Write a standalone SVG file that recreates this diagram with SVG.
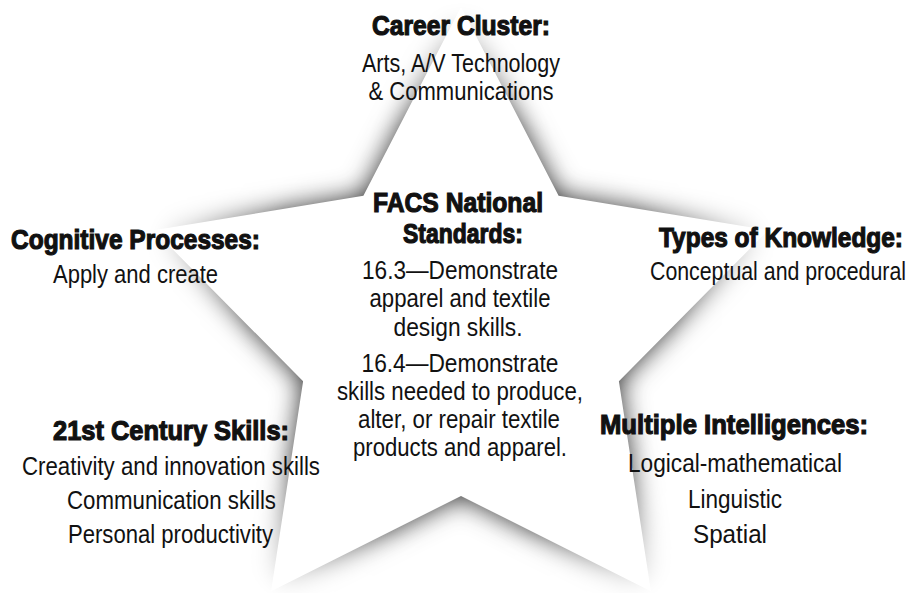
<svg xmlns="http://www.w3.org/2000/svg" width="917" height="593" viewBox="0 0 917 593">
  <defs>
    <path id="starShape" d="M461,7 L558.6,195.7 L768.2,230.2 L618.9,381.3 L650.9,591.3 L461,496 L271.1,591.3 L303.1,381.3 L153.8,230.2 L363.4,195.7 Z"/>
    <!-- blurred, darkened silhouette used as the edge shading -->
    <filter id="starShade" x="-20%" y="-20%" width="140%" height="140%">
      <feGaussianBlur in="SourceAlpha" stdDeviation="13" result="blur"/>
      <feFlood flood-color="#000" flood-opacity="0.85"/>
      <feComposite in2="blur" operator="in"/>
    </filter>
    <!-- shading is strongest near the inner corners and fades out toward the tips -->
    <radialGradient id="shadeFade" gradientUnits="userSpaceOnUse" cx="461" cy="330" r="330">
      <stop offset="0.45" stop-color="#fff"/>
      <stop offset="0.65" stop-color="#fff" stop-opacity="0.9"/>
      <stop offset="0.88" stop-color="#fff" stop-opacity="0.25"/>
      <stop offset="1" stop-color="#fff" stop-opacity="0"/>
    </radialGradient>
    <mask id="shadeMask" maskUnits="userSpaceOnUse" x="0" y="0" width="917" height="593">
      <rect width="917" height="593" fill="url(#shadeFade)"/>
    </mask>
  </defs>
  <style>
    text { font-family: "Liberation Sans", Arial, "Helvetica Neue", sans-serif; text-anchor: middle; fill: #111; }
    .h { font-size: 28px; font-weight: bold; stroke: #111; stroke-width: 1.2px; }
    .t { font-size: 25px; }
  </style>
  <rect width="917" height="593" fill="#fff"/>

  <!-- five-pointed star with soft grey edge shading -->
  <g id="star">
    <g mask="url(#shadeMask)">
      <use href="#starShape" fill="#fff" filter="url(#starShade)"/>
    </g>
    <use href="#starShape" fill="#fff"/>
  </g>

  <g id="career-cluster">
    <text class="h" x="461" y="35" textLength="178" lengthAdjust="spacingAndGlyphs">Career Cluster:</text>
    <text class="t" x="461" y="72" textLength="198" lengthAdjust="spacingAndGlyphs">Arts, A/V Technology</text>
    <text class="t" x="461" y="100" textLength="185" lengthAdjust="spacingAndGlyphs">&amp; Communications</text>
  </g>

  <g id="facs-standards">
    <text class="h" x="458" y="212" textLength="170" lengthAdjust="spacingAndGlyphs">FACS National</text>
    <text class="h" x="463" y="243" textLength="120" lengthAdjust="spacingAndGlyphs">Standards:</text>
    <text class="t" x="460" y="279" textLength="196" lengthAdjust="spacingAndGlyphs">16.3—Demonstrate</text>
    <text class="t" x="460" y="307" textLength="181" lengthAdjust="spacingAndGlyphs">apparel and textile</text>
    <text class="t" x="458" y="336" textLength="129" lengthAdjust="spacingAndGlyphs">design skills.</text>
    <text class="t" x="460" y="372" textLength="197" lengthAdjust="spacingAndGlyphs">16.4—Demonstrate</text>
    <text class="t" x="460" y="400" textLength="246" lengthAdjust="spacingAndGlyphs">skills needed to produce,</text>
    <text class="t" x="459" y="428" textLength="202" lengthAdjust="spacingAndGlyphs">alter, or repair textile</text>
    <text class="t" x="460" y="456" textLength="214" lengthAdjust="spacingAndGlyphs">products and apparel.</text>
  </g>

  <g id="cognitive-processes">
    <text class="h" x="135.5" y="249" textLength="249" lengthAdjust="spacingAndGlyphs">Cognitive Processes:</text>
    <text class="t" x="135.5" y="283" textLength="165" lengthAdjust="spacingAndGlyphs">Apply and create</text>
  </g>

  <g id="types-of-knowledge">
    <text class="h" x="781" y="247" textLength="244" lengthAdjust="spacingAndGlyphs">Types of Knowledge:</text>
    <text class="t" x="778" y="280" textLength="256" lengthAdjust="spacingAndGlyphs">Conceptual and procedural</text>
  </g>

  <g id="century-skills">
    <text class="h" x="171" y="440" textLength="236" lengthAdjust="spacingAndGlyphs">21st Century Skills:</text>
    <text class="t" x="171" y="475" textLength="298" lengthAdjust="spacingAndGlyphs">Creativity and innovation skills</text>
    <text class="t" x="171.5" y="509" textLength="209" lengthAdjust="spacingAndGlyphs">Communication skills</text>
    <text class="t" x="170.5" y="543" textLength="205" lengthAdjust="spacingAndGlyphs">Personal productivity</text>
  </g>

  <g id="multiple-intelligences">
    <text class="h" x="734" y="434" textLength="268" lengthAdjust="spacingAndGlyphs">Multiple Intelligences:</text>
    <text class="t" x="735" y="472" textLength="214" lengthAdjust="spacingAndGlyphs">Logical-mathematical</text>
    <text class="t" x="735" y="508" textLength="94" lengthAdjust="spacingAndGlyphs">Linguistic</text>
    <text class="t" x="730" y="543" textLength="74" lengthAdjust="spacingAndGlyphs">Spatial</text>
  </g>
</svg>
